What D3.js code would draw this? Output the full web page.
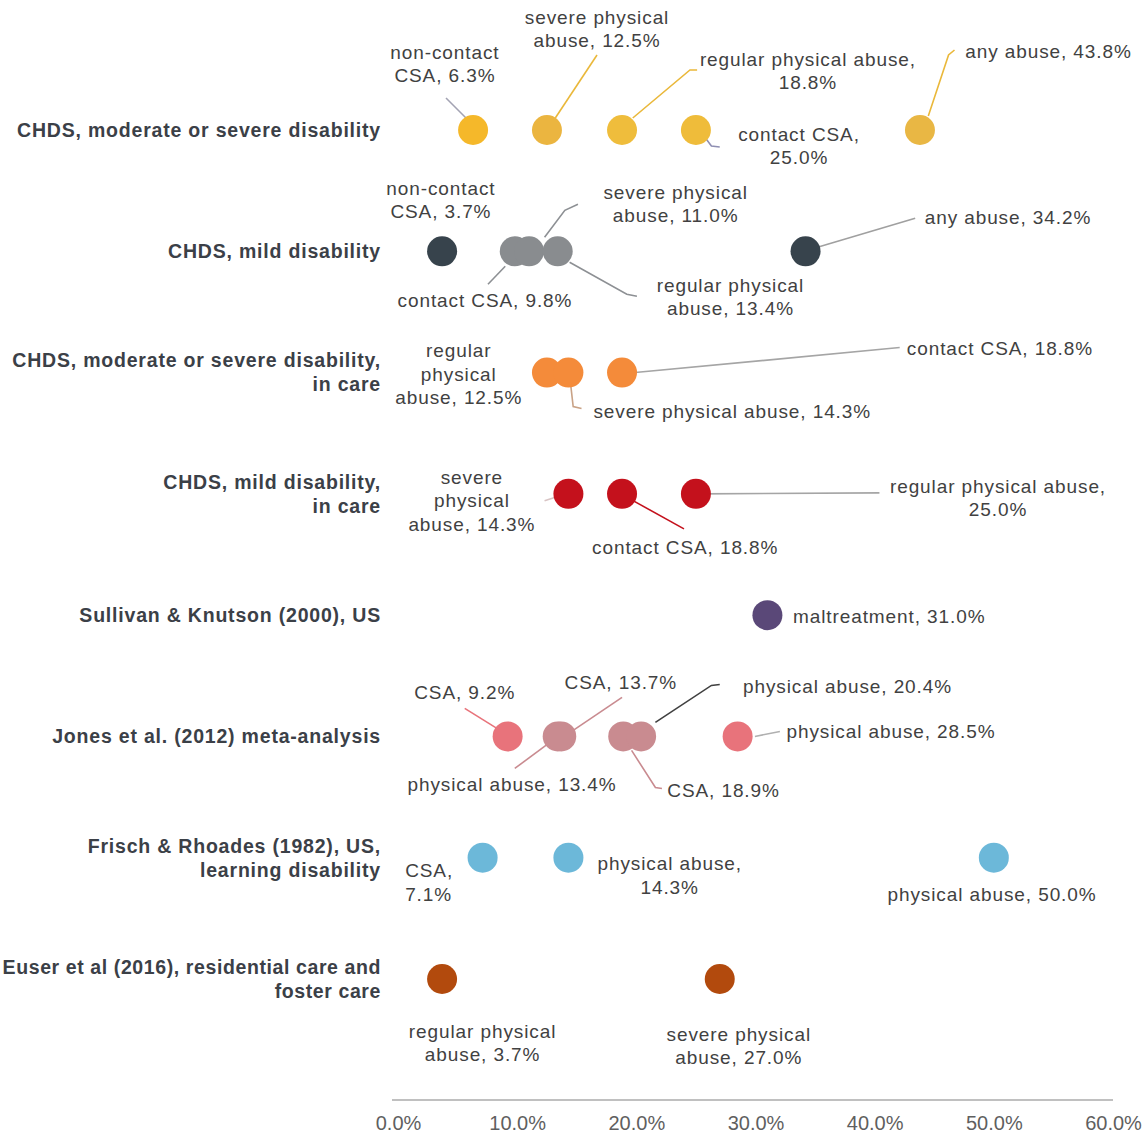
<!DOCTYPE html>
<html>
<head>
<meta charset="utf-8">
<script src="https://cdn.jsdelivr.net/npm/d3@7"></script>
<style>
  body { margin: 0; background: #fff; }
  svg { display: block; font-family: "Liberation Sans", Arial, sans-serif; }
</style>
</head>
<body>
<script>
// chart data
var categories = [
  "CHDS, moderate or severe disability",
  "CHDS, mild disability",
  "CHDS, moderate or severe disability,|in care",
  "CHDS, mild disability,|in care",
  "Sullivan & Knutson (2000), US",
  "Jones et al. (2012) meta-analysis",
  "Frisch & Rhoades (1982), US,|learning disability",
  "Euser et al (2016), residential care and|foster care"
];
var pointNames = [
  ["non-contact CSA", "severe physical abuse", "regular physical abuse", "contact CSA", "any abuse"],
  ["non-contact CSA", "contact CSA", "severe physical abuse", "regular physical abuse", "any abuse"],
  ["regular physical abuse", "severe physical abuse", "contact CSA"],
  ["severe physical abuse", "contact CSA", "regular physical abuse"],
  ["maltreatment"],
  ["CSA", "physical abuse", "CSA", "CSA", "physical abuse", "physical abuse"],
  ["CSA", "physical abuse", "physical abuse"],
  ["regular physical abuse", "severe physical abuse"]
];
var pointValues = [
  [6.3, 12.5, 18.8, 25.0, 43.8],
  [3.7, 9.8, 11.0, 13.4, 34.2],
  [12.5, 14.3, 18.8],
  [14.3, 18.8, 25.0],
  [31.0],
  [9.2, 13.4, 13.7, 18.9, 20.4, 28.5],
  [7.1, 14.3, 50.0],
  [3.7, 27.0]
];
var xTicks = [0, 10, 20, 30, 40, 50, 60];

// styles
var pointColours = [
  ["#f5b82a", "#ebb540", "#efbd3c", "#efbc3a", "#e9b744"],
  ["#37434c", "#898c8f", "#898c8f", "#898c8f", "#37434c"],
  ["#f48b3a", "#f48b3a", "#f48b3a"],
  ["#c4111c", "#c4111c", "#c4111c"],
  ["#5a4878"],
  ["#e8737b", "#c98b90", "#c98b90", "#c98b90", "#c98b90", "#e8737b"],
  ["#6cb8d9", "#6cb8d9", "#6cb8d9"],
  ["#b24a0d", "#b24a0d"]
];
// label layout: lx in %, dy in px from row centre, words per line, leader path [%, dy]
var labelLayout = [
  [
    {lx: 3.94, dy: -78, lines: [1, 2], leader: [[6.04, -8], [4.03, -32]], lc: "#a3a3b3"},
    {lx: 16.7, dy: -113, lines: [2, 2], leader: [[13.2, -12], [16.7, -75]], lc: "#eab83a"},
    {lx: 34.4, dy: -71, lines: [3, 1], leader: [[19.7, -12], [24.5, -60], [25.1, -60]], lc: "#eab83a"},
    {lx: 33.65, dy: 4, lines: [2, 1], leader: [[25.3, 0], [26.3, 16], [27.0, 17]], lc: "#8f8fb3"},
    {lx: 47.6, dy: -79, anchor: "start", lines: [4], leader: [[44.5, -14], [46.2, -75], [46.7, -80]], lc: "#eab83a"}
  ],
  [
    {lx: 3.6, dy: -63, lines: [1, 2]},
    {lx: 7.3, dy: 49, lines: [4], leader: [[9.0, 15], [7.55, 33]], lc: "#8d9094"},
    {lx: 23.3, dy: -59, lines: [2, 2], leader: [[12.3, -14], [14.0, -41], [15.1, -47]], lc: "#8d9094"},
    {lx: 27.9, dy: 34, lines: [2, 2], leader: [[14.4, 11], [19.2, 43], [20.05, 45]], lc: "#8d9094"},
    {lx: 44.2, dy: -34, anchor: "start", lines: [4], leader: [[35.2, -4], [43.4, -33]], lc: "#a0a0a0"}
  ],
  [
    {lx: 5.1, dy: -22, lines: [1, 1, 2]},
    {lx: 16.4, dy: 39, anchor: "start", lines: [5], leader: [[14.5, 13], [14.7, 34], [15.4, 36]], lc: "#c9a286"},
    {lx: 42.7, dy: -24, anchor: "start", lines: [4], leader: [[19.9, 0], [42.1, -25]], lc: "#a5a5a5"}
  ],
  [
    {lx: 6.2, dy: -17, lines: [1, 1, 2], leader: [[13.6, 2], [12.3, 7]], lc: "#d8c4c4"},
    {lx: 24.1, dy: 53, lines: [4], leader: [[19.0, 2], [24.0, 35]], lc: "#c4111c"},
    {lx: 50.35, dy: -8, lines: [3, 1], leader: [[25.3, 0], [40.4, -1]], lc: "#a5a5a5"}
  ],
  [
    {lx: 33.15, dy: 1, anchor: "start", lines: [3]}
  ],
  [
    {lx: 5.6, dy: -44, lines: [2], leader: [[8.3, -8], [5.6, -28]], lc: "#e8737b"},
    {lx: 9.57, dy: 48, lines: [4], leader: [[12.75, 6], [9.8, 32]], lc: "#c98b90"},
    {lx: 18.7, dy: -54, lines: [2], leader: [[14.7, -6], [18.8, -39]], lc: "#c98b90"},
    {lx: 22.6, dy: 54, anchor: "start", lines: [2], leader: [[19.6, 14], [21.6, 51], [22.15, 52]], lc: "#c98b90"},
    {lx: 28.95, dy: -50, anchor: "start", lines: [4], leader: [[21.6, -14], [26.3, -51], [27.0, -52]], lc: "#404040"},
    {lx: 32.6, dy: -5, anchor: "start", lines: [4], leader: [[29.95, 0], [32.05, -5]], lc: "#b0b0b0"}
  ],
  [
    {lx: 0.6, dy: 13, anchor: "start", lines: [1, 1]},
    {lx: 22.8, dy: 6, lines: [2, 1]},
    {lx: 49.85, dy: 37, lines: [4]}
  ],
  [
    {lx: 7.1, dy: 52, lines: [2, 2]},
    {lx: 28.6, dy: 55, lines: [2, 2]}
  ]
];

var width = 1145, height = 1136;
var svg = d3.select("body").append("svg")
  .attr("width", width)
  .attr("height", height);

var x = d3.scaleLinear().domain([0, 60]).range([398, 1113]);
var y = d3.scalePoint().domain(categories).range([130, 979]);

// x axis
var axis = svg.append("g")
  .attr("transform", "translate(0,1100)")
  .call(d3.axisBottom(x).tickValues(xTicks)
    .tickFormat(function(d){ return d3.format(".1f")(d) + "%"; })
    .tickSize(0).tickPadding(16));
axis.select(".domain").attr("stroke", "#c0c0c0").attr("stroke-width", 2)
  .attr("d", "M" + (x(0) - 6) + ",0H" + x(60));
axis.selectAll("text")
  .attr("fill", "#5f5f5f")
  .style("font-size", "20px");

// category labels
categories.forEach(function(cat){
  var parts = cat.split("|");
  var t = svg.append("text")
    .attr("x", 381)
    .attr("text-anchor", "end")
    .attr("fill", "#3b4047")
    .style("font-size", "19.5px")
    .style("font-weight", "bold")
    .style("letter-spacing", "0.8px");
  var y0 = y(cat) - (parts.length - 1) * 12;
  parts.forEach(function(p, i){
    t.append("tspan").attr("x", 381).attr("y", y0 + i * 24).attr("dy", "0.35em").text(p);
  });
  // keep long labels inside the left edge
  if (t.node().getBBox().x < 1) t.style("letter-spacing", "0.6px");
});

var line = d3.line();

// rows
categories.forEach(function(cat, r){
  var cy = y(cat);
  var g = svg.append("g");
  var pts = pointValues[r].map(function(v, i){
    return {value: v, name: pointNames[r][i], colour: pointColours[r][i], layout: labelLayout[r][i]};
  });

  // leader lines
  g.selectAll(".leader")
    .data(pts.filter(function(d){ return d.layout.leader; }))
    .enter().append("path")
    .attr("class", "leader")
    .attr("fill", "none")
    .attr("stroke", function(d){ return d.layout.lc; })
    .attr("stroke-width", 1.6)
    .attr("d", function(d){
      return line(d.layout.leader.map(function(p){ return [x(p[0]), cy + p[1]]; }));
    });

  // dots
  g.selectAll(".dot")
    .data(pts)
    .enter().append("circle")
    .attr("class", "dot")
    .attr("cx", function(d){ return x(d.value); })
    .attr("cy", cy)
    .attr("r", 15)
    .attr("fill", function(d){ return d.colour; });

  // labels
  pts.forEach(function(d){
    var words = (d.name + ", " + d3.format(".1f")(d.value) + "%").split(" ");
    var lines = [], k = 0;
    d.layout.lines.forEach(function(n){ lines.push(words.slice(k, k + n).join(" ")); k += n; });
    var t = g.append("text")
      .attr("text-anchor", d.layout.anchor || "middle")
      .attr("fill", "#414141")
      .style("font-size", "19px")
      .style("letter-spacing", "0.9px");
    lines.forEach(function(l, i){
      t.append("tspan")
        .attr("x", x(d.layout.lx))
        .attr("y", cy + d.layout.dy + i * 23.5)
        .attr("dy", "0.35em")
        .text(l);
    });
  });
});
</script>
</body>
</html>
